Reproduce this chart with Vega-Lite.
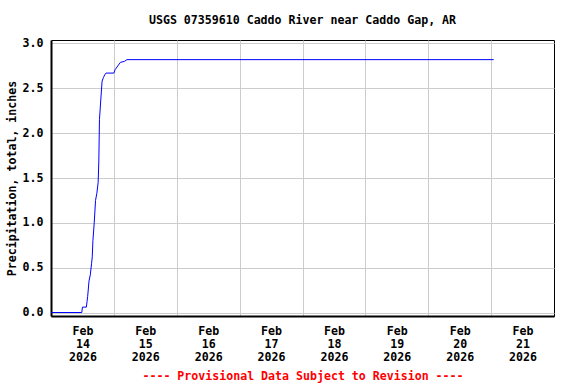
{
  "$schema": "https://vega.github.io/schema/vega-lite/v6.json",
  "width": 503,
  "height": 276,
  "autosize": "none",
  "padding": {"left": 51, "top": 40, "right": 22, "bottom": 68},
  "background": "white",
  "config": {
    "font": "DejaVu Sans Mono",
    "view": {"stroke": "black", "strokeWidth": 1}
  },
  "title": {
    "text": "USGS 07359610 Caddo River near Caddo Gap, AR",
    "font": "DejaVu Sans Mono",
    "fontSize": 11.6,
    "fontWeight": "bold",
    "color": "black",
    "anchor": "middle",
    "offset": 11
  },
  "data": {
    "values": [
      {"t": "2026-02-14T00:00:00Z", "v": 0},
      {"t": "2026-02-14T11:45:00Z", "v": 0},
      {"t": "2026-02-14T12:00:00Z", "v": 0.06},
      {"t": "2026-02-14T13:30:00Z", "v": 0.06},
      {"t": "2026-02-14T13:45:00Z", "v": 0.12},
      {"t": "2026-02-14T14:00:00Z", "v": 0.18},
      {"t": "2026-02-14T14:30:00Z", "v": 0.35},
      {"t": "2026-02-14T15:00:00Z", "v": 0.42},
      {"t": "2026-02-14T15:30:00Z", "v": 0.55},
      {"t": "2026-02-14T15:45:00Z", "v": 0.62},
      {"t": "2026-02-14T16:00:00Z", "v": 0.8},
      {"t": "2026-02-14T16:30:00Z", "v": 1.0},
      {"t": "2026-02-14T17:00:00Z", "v": 1.25},
      {"t": "2026-02-14T17:30:00Z", "v": 1.33},
      {"t": "2026-02-14T18:00:00Z", "v": 1.45},
      {"t": "2026-02-14T18:15:00Z", "v": 1.68},
      {"t": "2026-02-14T18:30:00Z", "v": 2.15},
      {"t": "2026-02-14T19:00:00Z", "v": 2.37},
      {"t": "2026-02-14T19:30:00Z", "v": 2.58},
      {"t": "2026-02-14T20:00:00Z", "v": 2.62},
      {"t": "2026-02-14T20:30:00Z", "v": 2.65},
      {"t": "2026-02-14T21:00:00Z", "v": 2.67},
      {"t": "2026-02-15T00:00:00Z", "v": 2.67},
      {"t": "2026-02-15T00:30:00Z", "v": 2.71},
      {"t": "2026-02-15T01:30:00Z", "v": 2.75},
      {"t": "2026-02-15T02:30:00Z", "v": 2.79},
      {"t": "2026-02-15T04:00:00Z", "v": 2.8},
      {"t": "2026-02-15T05:00:00Z", "v": 2.82},
      {"t": "2026-02-21T01:00:00Z", "v": 2.82}
    ]
  },
  "mark": {"type": "line", "color": "#0000ff", "strokeWidth": 1, "clip": true},
  "encoding": {
    "x": {
      "field": "t",
      "type": "temporal",
      "scale": {"type": "utc", "domain": ["2026-02-14T00:00:00Z", "2026-02-22T00:00:00Z"], "nice": false},
      "axis": {
        "values": ["2026-02-14T00:00:00Z", "2026-02-15T00:00:00Z", "2026-02-16T00:00:00Z", "2026-02-17T00:00:00Z", "2026-02-18T00:00:00Z", "2026-02-19T00:00:00Z", "2026-02-20T00:00:00Z", "2026-02-21T00:00:00Z"],
        "labelExpr": "[utcFormat(datum.value, '%b'), utcFormat(datum.value, '%d'), utcFormat(datum.value, '%Y')]",
        "labelOffset": 31.4,
        "labelFont": "DejaVu Sans Mono",
        "labelFontSize": 11.6,
        "labelFontWeight": "bold",
        "labelColor": "black",
        "labelLineHeight": 13,
        "labelPadding": 9,
        "labelAngle": 0,
        "labelAlign": "center",
        "labelOverlap": false,
        "ticks": false,
        "grid": true,
        "gridColor": "#cccccc",
        "gridWidth": 1,
        "gridOpacity": 1,
        "domainColor": "black",
        "domainWidth": 2,
        "title": "---- Provisional Data Subject to Revision ----",
        "titleFont": "DejaVu Sans Mono",
        "titleFontSize": 11.6,
        "titleFontWeight": "bold",
        "titleColor": "red",
        "titlePadding": 8
      }
    },
    "y": {
      "field": "v",
      "type": "quantitative",
      "scale": {"domain": [-0.039, 3.039], "nice": false, "zero": false},
      "axis": {
        "values": [0, 0.5, 1, 1.5, 2, 2.5, 3],
        "format": ".1f",
        "labelFont": "DejaVu Sans Mono",
        "labelFontSize": 11.6,
        "labelFontWeight": "bold",
        "labelColor": "black",
        "labelPadding": 8,
        "ticks": false,
        "grid": true,
        "gridColor": "#cccccc",
        "gridWidth": 1,
        "gridOpacity": 1,
        "domainColor": "black",
        "domainWidth": 2,
        "title": "Precipitation, total, inches",
        "titleFont": "DejaVu Sans Mono",
        "titleFontSize": 11.6,
        "titleFontWeight": "bold",
        "titleColor": "black",
        "titlePadding": 5
      }
    }
  }
}
